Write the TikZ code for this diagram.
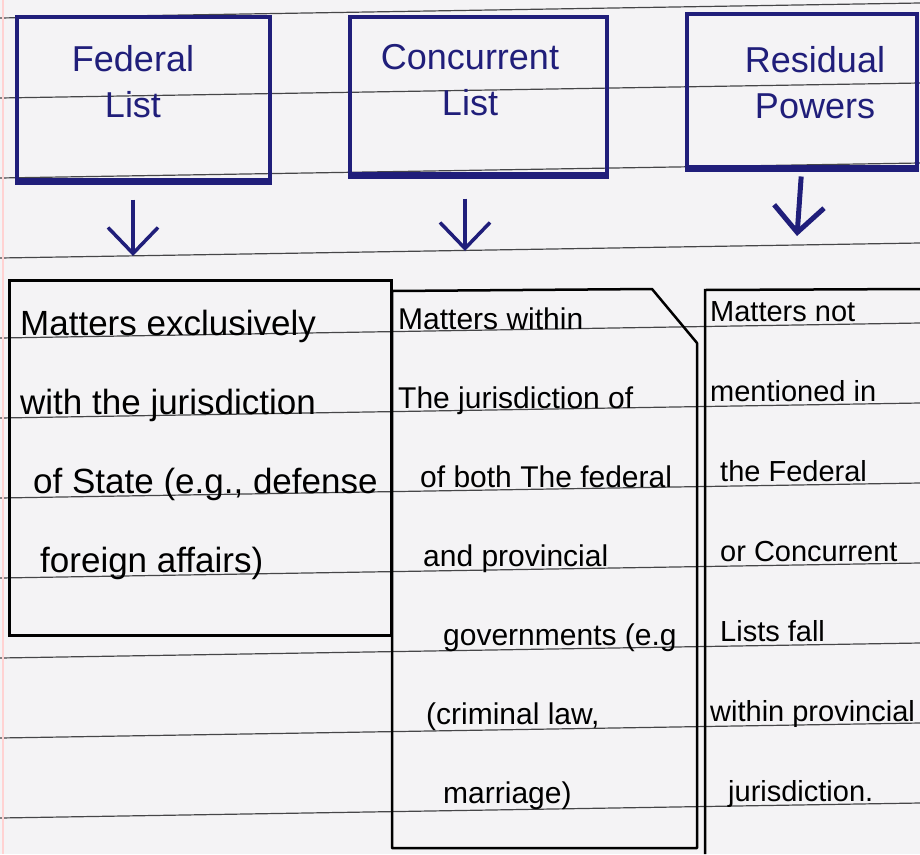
\documentclass[tikz,border=0pt]{standalone}
\usepackage{fontspec}
\setmainfont{Liberation Sans}
\usetikzlibrary{arrows.meta}
\definecolor{inkblue}{RGB}{32,30,122}
\definecolor{paper}{RGB}{244,243,245}
\definecolor{rule}{RGB}{70,70,72}

\begin{document}
\begin{tikzpicture}[x=1pt, y=-1pt,
  headbox/.style={draw=inkblue, line width=3.5pt, anchor=north west, inner sep=0pt},
  headtext/.style={inkblue, align=center, inner sep=0pt, font=\fontsize{36}{46}\selectfont},
  bodytext/.style={align=left, inner sep=0pt, anchor=north west},
  arr/.style={-{Straight Barb[length=26pt,width=50pt]}, inkblue, line width=3.5pt}]

% paper and ruled lines
\fill[paper] (0,0) rectangle (920,854);
\useasboundingbox (0,0) rectangle (920,854);
\foreach \y in {18,98,...,820}
  \draw[rule, line width=1.2pt] (0,\y) -- (920,\y-15);
\draw[pink!70, line width=1.5pt] (3,0) -- (3,854);

% boxes on top
\node[headbox, minimum width=253pt, minimum height=163pt] (fedhead) at (15,15) {};
\node[headbox, minimum width=257pt, minimum height=157pt] (conhead) at (348,15) {};
\node[headbox, minimum width=230pt, minimum height=153pt] (reshead) at (685,12) {};
\foreach \b in {fedhead, conhead, reshead}
  \draw[inkblue, line width=6pt] (\b.south west) -- (\b.south east);

\node[headtext] (fedtitle) at (133,82) {Federal\\List};
\node[headtext] (contitle) at (470,80) {Concurrent\\List};
\node[headtext] (restitle) at (815,83) {Residual\\Powers};

%% arrows down to the lists
\coordinate (fedtip) at (133,256);
\coordinate (contip) at (465,251);
\coordinate (restip) at (797,236);
\draw[arr, shorten <=18pt] (fedhead.south -| fedtip) -- (fedtip);
\draw[arr, shorten <=23pt] (conhead.south -| contip) -- (contip);
\draw[arr, line width=5pt, shorten <=8pt] (reshead.south) -- (restip);

%% the three lists
\node[draw, line width=2.5pt, anchor=north west, inner sep=0pt,
  minimum width=382pt, minimum height=355pt] (fedbody) at (8,279) {};
\draw[line width=2.5pt, line join=round]
  (392,291) -- (652,289) -- (697,343) -- (697,848) -- (392,848) -- cycle;
\draw[line width=2.5pt] (920,289) -- (705,290) -- (705,854);

\node[bodytext, font=\fontsize{35}{79}\selectfont] (fedtext) at (20,310)
  {Matters exclusively\\with the jurisdiction\\\hspace*{13pt}of State (e.g., defense\\\hspace*{20pt}foreign affairs)};
\node[bodytext, font=\fontsize{30}{79}\selectfont] (context) at (398,308)
  {Matters within\\The jurisdiction of\\\hspace*{22pt}of both The federal\\\hspace*{25pt}and provincial\\\hspace*{45pt}governments (e.g\\\hspace*{28pt}(criminal law,\\\hspace*{45pt}marriage)};
\node[bodytext, font=\fontsize{29}{80}\selectfont] (restext) at (710,301)
  {Matters not\\mentioned in\\\hspace*{10pt}the Federal\\\hspace*{10pt}or Concurrent\\\hspace*{10pt}Lists fall\\within provincial\\\hspace*{18pt}jurisdiction.};

\end{tikzpicture}
\end{document}
